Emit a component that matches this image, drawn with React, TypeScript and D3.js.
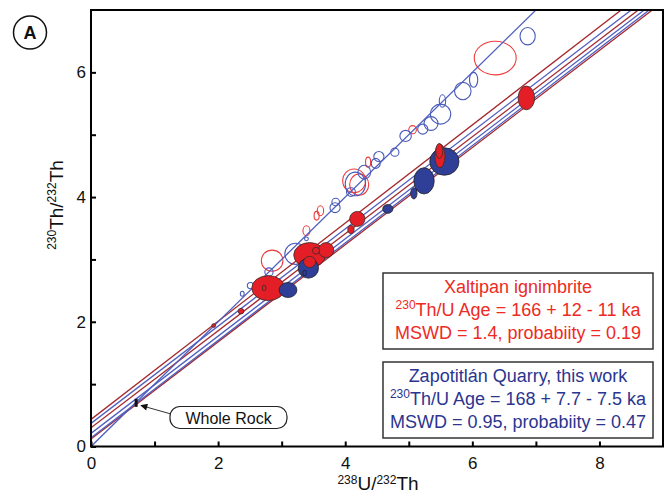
import React, { useRef, useEffect } from "react";
import * as d3 from "d3";

// axis ticks
const xTickValues = [0, 1, 2, 3, 4, 5, 6, 7, 8];
const yTickValues = [0, 1, 2, 3, 4, 5, 6];

// isochron samples: [x, y, errX, errY, drawnOnTop]
const xaltipanPoints = [
  [2.79, 2.54, 0.26, 0.2, 0],
  [3.44, 3.07, 0.25, 0.2, 0],
  [3.7, 3.15, 0.12, 0.12, 0],
  [3.54, 3.14, 0.055, 0.055, 0],
  [4.19, 3.65, 0.12, 0.12, 0],
  [4.09, 3.48, 0.05, 0.065, 0],
  [2.36, 2.17, 0.045, 0.045, 0],
  [1.93, 1.94, 0.03, 0.03, 0],
  [6.85, 5.59, 0.13, 0.19, 0],
  [3.44, 2.96, 0.095, 0.09, 1],
  [5.49, 4.66, 0.08, 0.19, 1],
  [5.48, 4.74, 0.055, 0.12, 1],
];
const zapotitlanPoints = [
  [3.1, 2.51, 0.14, 0.12],
  [3.42, 2.86, 0.16, 0.16],
  [4.67, 3.81, 0.08, 0.07],
  [5.08, 4.06, 0.05, 0.09],
  [5.24, 4.26, 0.16, 0.21],
  [5.56, 4.57, 0.23, 0.22],
];

// other analyses along the equiline (open symbols)
const openBluePoints = [
  [6.87, 6.58, 0.12, 0.14],
  [6.02, 5.88, 0.065, 0.12],
  [5.85, 5.7, 0.13, 0.14],
  [5.53, 5.54, 0.05, 0.1],
  [5.5, 5.33, 0.16, 0.16],
  [5.35, 5.18, 0.11, 0.11],
  [5.22, 5.09, 0.08, 0.08],
  [4.95, 4.98, 0.09, 0.09],
  [4.78, 4.72, 0.065, 0.065],
  [4.53, 4.65, 0.08, 0.08],
  [4.48, 4.54, 0.07, 0.08],
  [4.3, 4.4, 0.1, 0.11],
  [4.16, 4.21, 0.16, 0.19],
  [4.09, 4.08, 0.07, 0.07],
  [3.85, 3.92, 0.06, 0.06],
  [3.84, 3.83, 0.08, 0.08],
  [3.39, 3.33, 0.03, 0.03],
  [3.22, 3.09, 0.17, 0.17],
  [2.8, 2.8, 0.065, 0.065],
  [2.51, 2.58, 0.05, 0.05],
  [2.38, 2.45, 0.03, 0.04],
];
const openRedPoints = [
  [6.36, 6.23, 0.33, 0.27],
  [5.06, 5.08, 0.06, 0.065],
  [4.36, 4.56, 0.04, 0.08],
  [4.14, 4.26, 0.18, 0.19],
  [4.22, 4.2, 0.15, 0.17],
  [3.61, 3.78, 0.05, 0.08],
  [3.55, 3.7, 0.04, 0.07],
  [3.39, 3.46, 0.055, 0.08],
  [2.85, 2.98, 0.17, 0.17],
];

// regression lines: [intercept, slope]
const xaltipanLines = [
  [0.435, 0.787],
  [0.3, 0.778],
  [0.12, 0.779],
];
const zapotitlanLines = [
  [0.37, 0.78],
  [0.21, 0.78],
  [0.14, 0.781],
];
const equiline = [0, 1];

const wholeRock = [0.71, 0.7];

const xaltipanLegend = ["Xaltipan ignimbrite", "Th/U Age = 166 + 12 - 11 ka", "MSWD = 1.4, probabiity = 0.19"];
const zapotitlanLegend = ["Zapotitlán Quarry, this work", "Th/U Age = 168 + 7.7 - 7.5 ka", "MSWD = 0.95, probabiity = 0.47"];

const W = 667;
const H = 504;
const left = 91;
const right = 663;
const top = 10;
const bottom = 446.5;

const RED = "#e31e26";
const BLUE = "#2f3f98";
const RED_LINE = "#a5282c";
const BLUE_LINE = "#4f5fbf";
const FONT = "'Liberation Sans', Arial, sans-serif";

export default function App() {
  const xAxisRef = useRef<SVGGElement>(null);
  const yAxisRef = useRef<SVGGElement>(null);

  const x = d3.scaleLinear().domain([0, 9]).range([left, right]);
  const y = d3.scaleLinear().domain([0, 7]).range([bottom, top]);

  useEffect(() => {
    const xAxis = d3
      .axisBottom(x)
      .tickValues(xTickValues)
      .tickSizeInner(-5)
      .tickSizeOuter(0)
      .tickPadding(10)
      .tickFormat((d: any) => (d % 2 === 0 ? String(d) : ""));
    const gx = d3.select(xAxisRef.current).call(xAxis as any);
    gx.select(".domain").remove();
    gx.selectAll("line").attr("stroke", "#000").attr("stroke-width", 2);
    gx.selectAll("text").attr("font-size", 17).attr("font-family", FONT).attr("fill", "#111");

    const yAxis = d3
      .axisLeft(y)
      .tickValues(yTickValues)
      .tickSizeInner(-5)
      .tickSizeOuter(0)
      .tickPadding(5)
      .tickFormat((d: any) => (d % 2 === 0 ? String(d) : ""));
    const gy = d3.select(yAxisRef.current).call(yAxis as any);
    gy.select(".domain").remove();
    gy.selectAll("line").attr("stroke", "#000").attr("stroke-width", 2);
    gy.selectAll("text").attr("font-size", 17).attr("font-family", FONT).attr("fill", "#111");
  }, []);

  const linePath = (b: number, m: number) =>
    d3.line()([
      [x(0), y(b)],
      [x(9), y(b + m * 9)],
    ]);

  const ellipse = (p: number[], key: string, fill: string, stroke: string, sw: number) => (
    <ellipse
      key={key}
      cx={x(p[0])}
      cy={y(p[1])}
      rx={x(p[2]) - x(0)}
      ry={y(0) - y(p[3])}
      fill={fill}
      stroke={stroke}
      strokeWidth={sw}
    />
  );

  const legendBox = (lines: string[], color: string, boxTop: number) => (
    <g>
      <rect x={383} y={boxTop} width={270} height={76} fill="#fff" stroke="#333" strokeWidth={1.5} />
      <text x={518} y={boxTop + 20} textAnchor="middle" fill={color} fontSize={18} fontFamily={FONT}>
        {lines[0]}
      </text>
      <text x={518} y={boxTop + 43} textAnchor="middle" fill={color} fontSize={18} fontFamily={FONT}>
        <tspan fontSize={12} dy={-7}>230</tspan>
        <tspan dy={7}>{lines[1]}</tspan>
      </text>
      <text x={518} y={boxTop + 66} textAnchor="middle" fill={color} fontSize={18} fontFamily={FONT}>
        {lines[2]}
      </text>
    </g>
  );

  return (
    <svg width={W} height={H} style={{ position: "absolute", left: 0, top: 0, background: "#fff" }}>
      <defs>
        <clipPath id="plot-clip">
          <rect x={left} y={top} width={right - left} height={bottom - top} />
        </clipPath>
        <marker id="arrow" viewBox="0 0 10 10" refX={9} refY={5} markerWidth={9} markerHeight={7} orient="auto">
          <path d="M0,0 L10,5 L0,10 z" fill="#111" />
        </marker>
      </defs>

      <g clipPath="url(#plot-clip)">
        {/* open symbols */}
        {openRedPoints.map((p, i) => ellipse(p, "or" + i, "none", "#ee3b3b", 1.1))}
        {openBluePoints.map((p, i) => ellipse(p, "ob" + i, "none", "#4a5ab8", 1.1))}

        {/* regression lines */}
        {xaltipanLines.map((l, i) => (
          <path key={"rl" + i} d={linePath(l[0], l[1]) || ""} stroke={RED_LINE} strokeWidth={1.3} fill="none" />
        ))}
        {zapotitlanLines.map((l, i) => (
          <path key={"bl" + i} d={linePath(l[0], l[1]) || ""} stroke={BLUE_LINE} strokeWidth={1.3} fill="none" />
        ))}
        <path d={linePath(equiline[0], equiline[1]) || ""} stroke={BLUE_LINE} strokeWidth={1.3} fill="none" />

        {/* isochron samples */}
        {xaltipanPoints.filter((p) => !p[4]).map((p, i) => ellipse(p, "xr" + i, RED, "#3a2c2c", 0.8))}
        {zapotitlanPoints.map((p, i) => ellipse(p, "zb" + i, BLUE, "#222", 0.8))}
        {xaltipanPoints.filter((p) => p[4]).map((p, i) => ellipse(p, "xf" + i, RED, "#3a2c2c", 0.8))}

        <text x={x(xaltipanPoints[0][0]) - 7} y={y(xaltipanPoints[0][1]) + 3} fontSize={9} fontFamily={FONT} fill="#333">0</text>
        <text x={x(zapotitlanPoints[1][0]) - 6} y={y(zapotitlanPoints[1][1]) + 8} fontSize={9} fontFamily={FONT} fill="#222">0</text>

        {/* whole rock */}
        <rect x={x(wholeRock[0]) - 1.5} y={y(wholeRock[1]) - 4} width={3} height={8} fill="#111" />
      </g>

      {/* whole rock label */}
      <line x1={171} y1={414} x2={141} y2={405.5} stroke="#333" strokeWidth={1} markerEnd="url(#arrow)" />
      <rect x={170} y={406.5} width={117} height={22} rx={10} fill="#fff" stroke="#222" strokeWidth={1.2} />
      <text x={228.5} y={423.5} textAnchor="middle" fontSize={16} fontFamily={FONT} fill="#111">
        Whole Rock
      </text>

      {/* frame */}
      <rect x={left} y={top} width={right - left} height={bottom - top} fill="none" stroke="#000" strokeWidth={2} />
      <g ref={xAxisRef} transform={`translate(0,${bottom})`} />
      <g ref={yAxisRef} transform={`translate(${left},0)`} />

      {/* axis titles */}
      <text x={378} y={490} textAnchor="middle" fontSize={19} fontFamily={FONT} fill="#111">
        <tspan fontSize={12} dy={-6}>238</tspan>
        <tspan dy={6}>U/</tspan>
        <tspan fontSize={12} dy={-6}>232</tspan>
        <tspan dy={6}>Th</tspan>
      </text>
      <text
        transform={`translate(63,205) rotate(-90)`}
        textAnchor="middle"
        fontSize={19}
        fontFamily={FONT}
        fill="#111"
      >
        <tspan fontSize={12} dy={-7}>230</tspan>
        <tspan dy={7}>Th/</tspan>
        <tspan fontSize={12} dy={-7}>232</tspan>
        <tspan dy={7}>Th</tspan>
      </text>

      {/* panel label */}
      <circle cx={30} cy={32.5} r={16.5} fill="#fff" stroke="#111" strokeWidth={1.5} />
      <text x={30} y={39} textAnchor="middle" fontSize={18} fontWeight="bold" fontFamily={FONT} fill="#111">
        A
      </text>

      {legendBox(xaltipanLegend, "#ee2a24", 273)}
      {legendBox(zapotitlanLegend, "#2b3590", 362)}
    </svg>
  );
}
